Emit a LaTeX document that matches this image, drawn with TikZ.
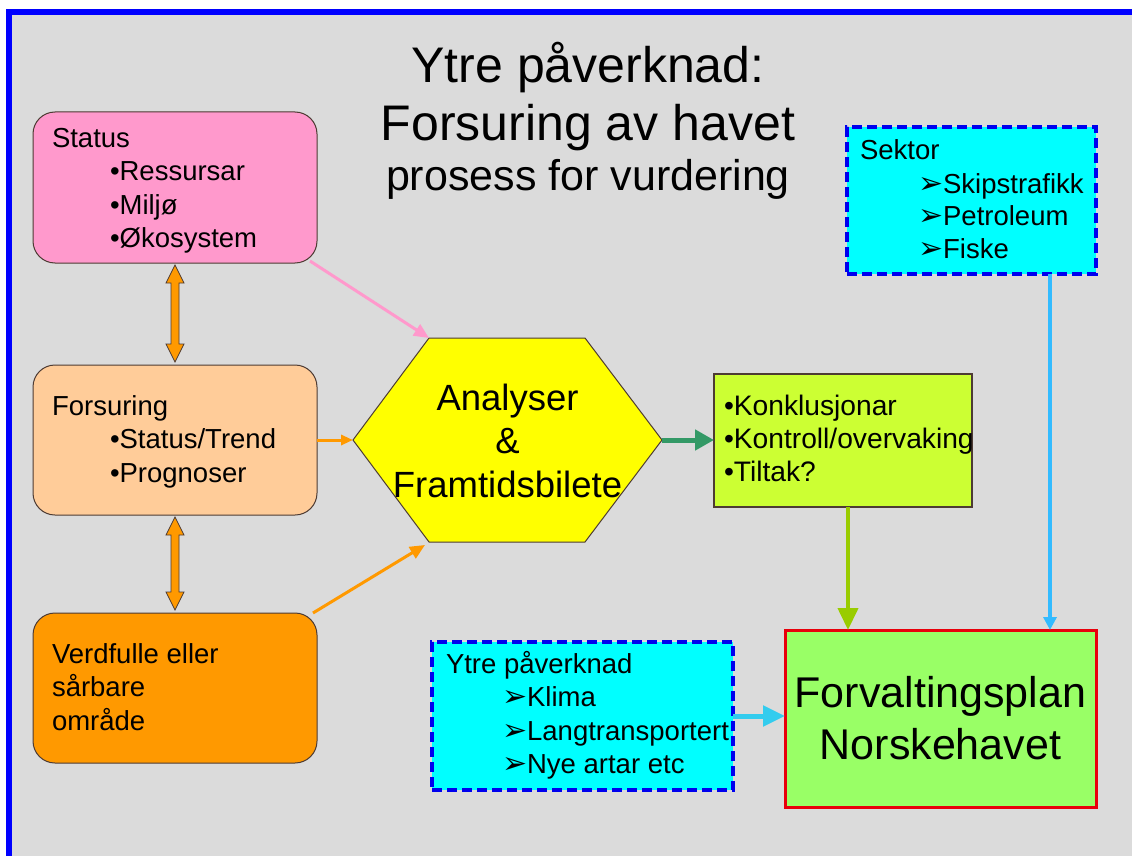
\documentclass[tikz,border=0pt]{standalone}
\usepackage{fontspec}
\setmainfont{Liberation Sans}
\newfontfamily\dingfont{DejaVu Sans}
\usetikzlibrary{arrows.meta,calc}
\definecolor{bgc}{HTML}{DBDBDB}
\definecolor{framec}{HTML}{0000FF}
\definecolor{statusc}{HTML}{FF99CC}
\definecolor{forsc}{HTML}{FFCC99}
\definecolor{verdc}{HTML}{FF9900}
\definecolor{hexc}{HTML}{FFFF00}
\definecolor{limec}{HTML}{CCFF33}
\definecolor{cyanc}{HTML}{00FFFF}
\definecolor{dashc}{HTML}{0000EE}
\definecolor{planc}{HTML}{99FF66}
\definecolor{redc}{HTML}{E8000B}
\definecolor{greenarc}{HTML}{339966}
\definecolor{limearc}{HTML}{99CC00}
\definecolor{skyarc}{HTML}{33BBFF}
\definecolor{cyanarc}{HTML}{33CCEE}
\definecolor{edgec}{HTML}{4D3B33}
\newcommand\ltext[1]{\vtop{\halign{##\hfil\cr#1\crcr}}}
\newcommand\ctext[1]{\vtop{\halign{\hfil##\hfil\cr#1\crcr}}}
\newcommand\ind{\hskip58pt}
\newcommand\arr{{\dingfont\fontsize{30}{33}\selectfont ➢}}
\begin{document}
\begin{tikzpicture}[x=1pt,y=-1pt,
  box/.style={draw=edgec, line width=1pt, inner sep=0pt, outer sep=0pt},
  rbox/.style={box, rounded corners=22pt},
  dbox/.style={draw=dashc, line width=3.2pt, dash pattern=on 10pt off 5pt, fill=cyanc, inner sep=0pt, outer sep=0pt},
  txt/.style={inner sep=0pt, outer sep=0pt, anchor=base west, font={\fontsize{27.5}{33.5}\selectfont}},
  ctxt/.style={inner sep=0pt, outer sep=0pt, anchor=base},
  dblar/.style={fill=verdc, draw=edgec, line width=0.8pt},
  pinkar/.style={draw=statusc, line width=3pt, -{Triangle[length=15pt,width=13pt]}},
  orar/.style={draw=verdc, line width=3pt, -{Triangle[length=12pt,width=10pt]}},
  orarb/.style={draw=verdc, line width=3pt, -{Triangle[length=15pt,width=13pt]}},
  greenar/.style={draw=greenarc, line width=5pt, -{Triangle[length=19pt,width=20pt]}},
  limear/.style={draw=limearc, line width=4pt, -{Triangle[length=22pt,width=20pt]}},
  skyar/.style={draw=skyarc, line width=3.5pt, -{Triangle[length=13pt,width=13pt]}},
  cyanar/.style={draw=cyanarc, line width=5pt, -{Triangle[length=22pt,width=20pt]}}
]
\useasboundingbox (0,0) rectangle (1132,856);
\fill[white] (0,0) rectangle (1132,856);
\fill[bgc] (12,15) rectangle (1132,856);
\fill[framec] (6,9) rectangle (1132,15);
\fill[framec] (6,9) rectangle (12,856);

% title
\node[ctxt, font={\fontsize{50}{58}\selectfont}] (title) at (588,83)
  {\ctext{Ytre påverknad:\cr Forsuring av havet\cr\noalign{\vskip-8pt}\fontsize{43}{50}\selectfont prosess for vurdering}};

% left boxes
\node[rbox, fill=statusc, minimum width=284pt, minimum height=151pt] (status) at (175,187.5) {};
\node[rbox, fill=forsc, minimum width=284pt, minimum height=150pt] (fors) at (175,440) {};
\node[rbox, fill=verdc, minimum width=284pt, minimum height=150pt] (verd) at (175,688) {};
\node[txt] (statust) at (52,147) {\ltext{Status\cr\ind •Ressursar\cr\ind •Miljø\cr\ind •Økosystem}};
\node[txt] (forst) at (52,415) {\ltext{Forsuring\cr\ind •Status/Trend\cr\ind •Prognoser}};
\node[txt] (verdt) at (52,663) {\ltext{Verdfulle eller\cr sårbare\cr område}};

% hexagon
\node[inner sep=0pt, outer sep=0pt, minimum width=309pt, minimum height=204pt] (hex) at (507.5,440) {};
\coordinate (hexTL) at ($(hex.north west)+(76,0)$);
\coordinate (hexTR) at ($(hex.north east)+(-77,0)$);
\coordinate (hexBR) at ($(hex.south east)+(-77,0)$);
\coordinate (hexBL) at ($(hex.south west)+(76,0)$);
\draw[fill=hexc, draw=edgec, line width=1pt] (hex.west) -- (hexTL) -- (hexTR) -- (hex.east) -- (hexBR) -- (hexBL) -- cycle;
\node[ctxt, font={\fontsize{36.5}{43.5}\selectfont}] (hext) at (507.5,410) {\ctext{Analyser\cr \&\cr Framtidsbilete}};

% right boxes
\node[box, fill=limec, line width=1.2pt, minimum width=258pt, minimum height=133pt] (lime) at (843,440.5) {};
\node[txt, font={\fontsize{28.2}{33}\selectfont}] (limet) at (724,415) {\ltext{•Konklusjonar\cr •Kontroll/overvaking\cr •Tiltak?}};

\node[dbox, minimum width=249pt, minimum height=147pt] (sektor) at (971.5,200.5) {};
\node[txt, font={\fontsize{27.5}{33}\selectfont}] (sektort) at (860,160) {\ltext{Sektor\cr\hskip58pt\arr Skipstrafikk\cr\hskip58pt\arr Petroleum\cr\hskip58pt\arr Fiske}};

\node[dbox, minimum width=301pt, minimum height=148pt] (ytre) at (582.5,716) {};
\node[txt, font={\fontsize{27.5}{33.5}\selectfont}] (ytret) at (446,673) {\ltext{Ytre påverknad\cr\hskip56pt\arr Klima\cr\hskip56pt\arr Langtransportert\cr\hskip56pt\arr Nye artar etc}};

\node[draw=redc, line width=3pt, fill=planc, inner sep=0pt, outer sep=0pt, minimum width=311pt, minimum height=177pt] (forv) at (940.5,718.5) {};
\node[ctxt, font={\fontsize{43}{52}\selectfont}] (forvt) at (940.5,707) {\ctext{Forvaltingsplan\cr Norskehavet}};

% block double arrows
\draw[dblar] let \p1=($(status.south)+(0,2)$), \p2=($(fors.north)+(0,-3)$) in
  (\x1,\y1) -- (\x1+9pt,\y1-18pt) -- (\x1+4pt,\y1-18pt) -- (\x1+4pt,\y2+18pt) -- (\x1+9pt,\y2+18pt) -- (\x1,\y2)
  -- (\x1-9pt,\y2+18pt) -- (\x1-4pt,\y2+18pt) -- (\x1-4pt,\y1-18pt) -- (\x1-9pt,\y1-18pt) -- cycle;
\draw[dblar] let \p1=($(fors.south)+(0,2)$), \p2=($(verd.north)+(0,-3)$) in
  (\x1,\y1) -- (\x1+9pt,\y1-18pt) -- (\x1+4pt,\y1-18pt) -- (\x1+4pt,\y2+18pt) -- (\x1+9pt,\y2+18pt) -- (\x1,\y2)
  -- (\x1-9pt,\y2+18pt) -- (\x1-4pt,\y2+18pt) -- (\x1-4pt,\y1-18pt) -- (\x1-9pt,\y1-18pt) -- cycle;

% connectors
\coordinate (statout) at ($(status.south east)+(-7,-2)$);
\draw[pinkar] (statout) -- (hexTL);
\draw[orar] (fors.east) -- (hex.west);
\coordinate (verdout) at ($(verd.north east)+(-4,0)$);
\coordinate (hexin) at ($(hexBL)+(-4,3)$);
\draw[orarb] (verdout) -- (hexin);
\draw[greenar] (hex.east) -- (lime.west |- hex.east);
\coordinate (limeout) at ($(lime.south)+(5,0)$);
\draw[limear] (limeout) -- (limeout |- forv.north);
\coordinate (sekout) at ($(sektor.south east)+(-46,0)$);
\draw[skyar] (sekout) -- (sekout |- forv.north);
\draw[cyanar] (ytre.east) -- (ytre.east -| forv.west);
\end{tikzpicture}
\end{document}
